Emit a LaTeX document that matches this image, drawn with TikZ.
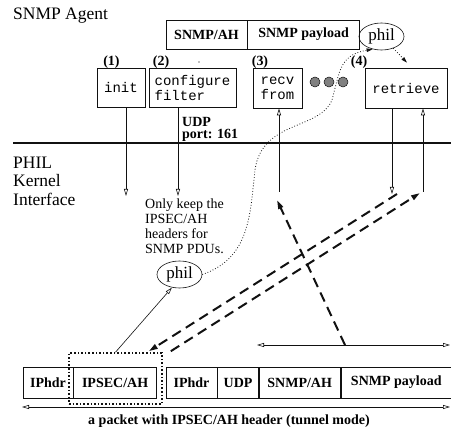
\documentclass[tikz,border=0pt]{standalone}
\usepackage{fontspec}
\setmainfont{Liberation Serif}
\setmonofont{Liberation Mono}
\usetikzlibrary{arrows.meta,positioning,shapes.geometric}
\definecolor{ink}{HTML}{111111}
\definecolor{blob}{HTML}{808080}
\tikzset{
  fld/.style={draw=ink,line width=.6pt,minimum height=31,inner sep=0pt,font=\fontsize{14}{15}\selectfont\bfseries},
  call/.style={draw=ink,line width=.6pt,minimum height=39,inner sep=3pt,font=\fontsize{14}{15}\selectfont\ttfamily},
  lbl/.style={inner sep=0pt,font=\fontsize{14}{15}\selectfont\bfseries},
  note/.style={inner sep=0pt,align=left,font=\fontsize{14}{15}\selectfont},
  big/.style={inner sep=0pt,align=left,font=\fontsize{17.5}{18.5}\selectfont},
  phil/.style={ellipse,draw=ink,line width=.6pt,minimum width=45,minimum height=27,inner sep=0pt,font=\fontsize{17}{18}\selectfont},
  sel/.style={draw=ink,line width=1.6pt,dotted,inner sep=0pt},
  bead/.style={circle,draw=ink,line width=.5pt,fill=blob,minimum size=10,inner sep=0pt},
  ar/.style={-{Triangle[open,length=7pt,width=4pt]},draw=ink,line width=.6pt},
  arr/.style={{Triangle[open,length=7pt,width=4pt]}-{Triangle[open,length=7pt,width=4pt]},draw=ink,line width=.6pt},
  dar/.style={-{Triangle[length=9pt,width=5pt]},draw=ink,line width=2pt,dash pattern=on 10pt off 6pt},
  dotar/.style={-{Triangle[length=6pt,width=3.5pt]},draw=ink,line width=.8pt,dotted},
}
\begin{document}
\begin{tikzpicture}[x=1pt,y=-1pt]
  \useasboundingbox (0,0) rectangle (451,433);
  % agent side
  \node[big,anchor=base west] (agent) at (13,20) {SNMP Agent};
  \node[fld,minimum width=81,minimum height=29] (tah) at (206.5,34.5) {SNMP/AH};
  \node[fld,minimum width=112,minimum height=29,right=0pt of tah] (tpay) {SNMP payload};
  \node[phil] (uphil) at (381.5,36.5) {phil};
  \fill[blob] (199,62) circle (0.9);
  \node[lbl,anchor=base] (n1) at (111.5,66) {(1)};
  \node[lbl,anchor=base] (n2) at (161,66) {(2)};
  \node[lbl,anchor=base] (n3) at (260,66) {(3)};
  \node[lbl,anchor=base] (n4) at (359,66) {(4)};
  \node[call,minimum width=48] (init) at (121,87.5) {init};
  \node[call,minimum width=87,align=left] (conf) at (192.5,87.5) {configure\\filter};
  \node[call,minimum width=49,minimum height=40,align=left] (recv) at (277.5,88) {recv\\from};
  \node[call,minimum width=82,minimum height=40] (retr) at (406,88) {retrieve};
  \node[bead] (b1) at (315,82) {};
  \node[bead] (b2) at (329,82) {};
  \node[bead] (b3) at (343,82) {};
  \node[lbl,align=left,anchor=north west,font=\fontsize{14}{12.5}\selectfont\bfseries] (port) at (182,116.7) {UDP\\port: 161};
  % kernel boundary
  \coordinate (kl) at (13,143);
  \coordinate (kr) at (451,143);
  \draw[draw=ink,line width=2pt] (kl) -- (kr);
  \node[big,anchor=north west] (kern) at (13,156.4) {PHIL\\Kernel\\Interface};
  \coordinate (a1) at (126,196);
  \coordinate (a2) at (178,196);
  \coordinate (a3) at (279,192);
  \coordinate (a4) at (392,194);
  \coordinate (a5) at (423,192);
  \draw[ar] (init.south -| a1) -- (a1);
  \draw[ar] (conf.south -| a2) -- (a2);
  \draw[ar] (a3) -- (recv.south -| a3);
  \draw[ar] (retr.south -| a4) -- (a4);
  \draw[ar] (a5) -- (retr.south -| a5);
  \node[note,anchor=north west] (keep) at (145,198.5) {Only keep the\\IPSEC/AH\\headers for\\SNMP PDUs.};
  \node[phil] (lphil) at (179.5,274.5) {phil};
  \draw[dotar] (lphil.east) .. controls (250,258) and (250,215) .. (255,170)
    .. controls (262,120) and (320,130) .. (332,100)
    .. controls (340,70) and (340,55) .. (uphil.-125);
  \draw[dotar] (uphil.-45) -- ([xshift=1pt,yshift=5pt]retr.north);
  % packet on the wire
  \node[fld,minimum width=50] (ip1) at (48,382.5) {IPhdr};
  \node[fld,minimum width=83,right=0pt of ip1] (ah) {IPSEC/AH};
  \node[fld,minimum width=51] (ip2) at (191.5,382.5) {IPhdr};
  \node[fld,minimum width=41,right=0pt of ip2] (udpf) {UDP};
  \node[fld,minimum width=81,right=0pt of udpf] (sah) {SNMP/AH};
  \node[fld,minimum width=111,right=0pt of sah] (spay) {SNMP payload};
  \node[sel,minimum width=93,minimum height=51] (selah) at (115.5,378.5) {};
  \coordinate (w1) at (257,345);
  \coordinate (w2) at (450,345);
  \draw[arr] (w1) -- (w2);
  \coordinate (p1) at (22,407);
  \coordinate (p2) at (450,407);
  \draw[arr] (p1) -- (p2);
  \node[lbl,anchor=base] (cap) at (229,425) {a packet with IPSEC/AH header (tunnel mode)};
  % flows
  \draw[ar] (selah.north) -- (lphil.-120);
  \coordinate (d1) at (397,194);
  \coordinate (d2) at (420,193);
  \coordinate (d3) at (345,345);
  \coordinate (d3e) at (277,200);
  \draw[dar] (d1) -- ([xshift=-14pt,yshift=1pt]selah.north east);
  \draw[dar] ([xshift=8pt,yshift=1pt]selah.north east) -- (d2);
  \draw[dar] (d3) -- (d3e);
\end{tikzpicture}
\end{document}
